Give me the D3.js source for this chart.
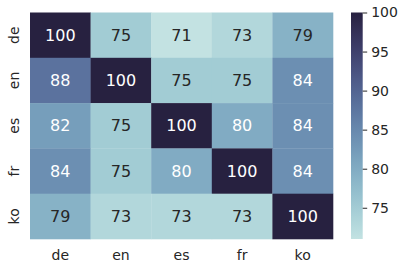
<!DOCTYPE html>
<html><head><meta charset="utf-8">
<script src="https://cdn.jsdelivr.net/npm/d3@7"></script>
<style>body{margin:0;background:#fff}svg{display:block;font-family:"DejaVu Sans",sans-serif}</style>
</head><body><svg id="c" width="407" height="270"></svg>
<script>
const rowLabels = ["de","en","es","fr","ko"];
const colLabels = ["de","en","es","fr","ko"];
const values = [
  [100, 75, 71, 73, 79],
  [88, 100, 75, 75, 84],
  [82, 75, 100, 80, 84],
  [84, 75, 80, 100, 84],
  [79, 73, 73, 73, 100]
];
const cbarTicks = [75, 80, 85, 90, 95, 100];

// seaborn "ch:start=.2,rot=-.3" cubehelix palette
function cubehelix(t, start=0.2, rot=-0.3, gamma=1, hue=0.8, light=0.85, dark=0.15) {
  const x = light + (dark - light) * t;
  const xg = Math.pow(x, gamma);
  const a = hue * xg * (1 - xg) / 2;
  const phi = 2 * Math.PI * (start / 3 + rot * x);
  const f = (p0, p1) => Math.max(0, Math.min(1, xg + a * (p0 * Math.cos(phi) + p1 * Math.sin(phi))));
  return [f(-0.14861, 1.78277), f(-0.29227, -0.90649), f(1.97294, 0)];
}
const toHex = c => d3.rgb(c[0]*255, c[1]*255, c[2]*255).formatHex();
function lum(c) {
  const l = c.map(v => v <= 0.03928 ? v / 12.92 : Math.pow((v + 0.055) / 1.055, 2.4));
  return 0.2126*l[0] + 0.7152*l[1] + 0.0722*l[2];
}

const flat = values.flat();
const vmin = d3.min(flat), vmax = d3.max(flat);
const norm = d3.scaleLinear().domain([vmin, vmax]).range([0, 1]).clamp(true);
const colorRGB = v => cubehelix(norm(v));

const svg = d3.select("#c");
const L = 30, R = 333, T = 12.5, B = 239;
const x = d3.scaleBand().domain(colLabels).range([L, R]);
const y = d3.scaleBand().domain(rowLabels).range([T, B]);

const cells = [];
values.forEach((row, i) => row.forEach((v, j) => cells.push({r: rowLabels[i], c: colLabels[j], v})));

svg.append("g").selectAll("rect").data(cells).join("rect")
  .attr("x", d => x(d.c)).attr("y", d => y(d.r))
  .attr("width", x.bandwidth()+0.3).attr("height", y.bandwidth()+0.3)
  .attr("fill", d => toHex(colorRGB(d.v)));

svg.append("g").selectAll("text").data(cells).join("text")
  .attr("x", d => x(d.c) + x.bandwidth()/2)
  .attr("y", d => y(d.r) + y.bandwidth()/2)
  .attr("text-anchor", "middle").attr("dominant-baseline", "central")
  .attr("font-size", 16)
  .attr("fill", d => lum(colorRGB(d.v)) > 0.408 ? "#262626" : "#ffffff")
  .text(d => d.v);

// x tick labels
svg.append("g").selectAll("text").data(colLabels).join("text")
  .attr("x", d => x(d) + x.bandwidth()/2).attr("y", 255)
  .attr("text-anchor", "middle").attr("dominant-baseline", "central")
  .attr("font-size", 14).attr("fill", "#262626").text(d => d);

// y tick labels (rotated)
svg.append("g").selectAll("text").data(rowLabels).join("text")
  .attr("transform", d => `translate(14,${y(d) + y.bandwidth()/2}) rotate(-90)`)
  .attr("text-anchor", "middle").attr("dominant-baseline", "central")
  .attr("font-size", 14).attr("fill", "#262626").text(d => d);

// colorbar
const cbX = 351, cbW = 11.7;
const cy = d3.scaleLinear().domain([vmin, vmax]).range([B, T]);
const defs = svg.append("defs");
const grad = defs.append("linearGradient").attr("id", "cbg").attr("x1", 0).attr("y1", 1).attr("x2", 0).attr("y2", 0);
d3.range(0, 1.0001, 0.05).forEach(t => grad.append("stop").attr("offset", t).attr("stop-color", toHex(cubehelix(t))));
svg.append("rect").attr("x", cbX).attr("y", T).attr("width", cbW).attr("height", B - T).attr("fill", "url(#cbg)");
const cbAxis = d3.axisRight(cy).tickValues(cbarTicks).tickSize(4.5).tickPadding(4);
const ag = svg.append("g").attr("transform", `translate(${cbX + cbW},0)`).call(cbAxis);
ag.select(".domain").remove();
ag.selectAll("line").attr("stroke", "#262626").attr("stroke-width", 1);
ag.selectAll("text").attr("font-size", 14).attr("fill", "#262626").attr("font-family", "DejaVu Sans");
</script></body></html>
